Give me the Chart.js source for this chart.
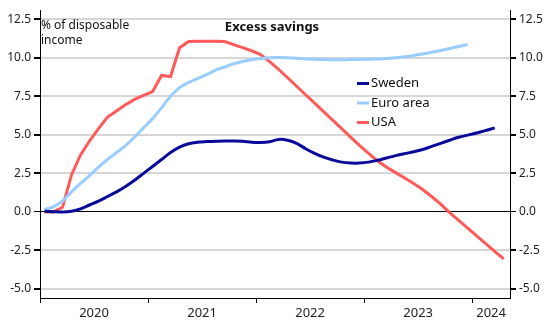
<!DOCTYPE html>
<html>
<head>
<meta charset="utf-8">
<script src="https://cdn.jsdelivr.net/npm/chart.js@4"></script>
<style>
  html, body { margin: 0; padding: 0; background: #fff; }
  canvas { display: block; }
</style>
</head>
<body>
<canvas id="savingsChart" width="550" height="321"></canvas>
<script>
// monthly values, % of disposable income, starting Jan 2020
const sweden = [
  0.05, 0.02, 0.0, 0.05, 0.2, 0.45, 0.7, 1.0, 1.3, 1.65,
  2.05, 2.5, 2.95, 3.4, 3.85, 4.2, 4.42, 4.52, 4.56, 4.58,
  4.6, 4.6, 4.58, 4.52, 4.5, 4.55, 4.7, 4.65, 4.45, 4.1,
  3.8, 3.55, 3.37, 3.23, 3.17, 3.17, 3.23, 3.35, 3.5, 3.65,
  3.78, 3.9, 4.05, 4.25, 4.45, 4.65, 4.84, 4.98, 5.12, 5.28,
  5.45
];
const euroArea = [
  0.15, 0.35, 0.7, 1.3, 1.85, 2.35, 2.9, 3.4, 3.85, 4.3,
  4.85, 5.45, 6.05, 6.75, 7.5, 8.05, 8.4, 8.65, 8.9, 9.2,
  9.4, 9.6, 9.75, 9.87, 9.95, 10.0, 10.02, 10.0, 9.96, 9.92,
  9.9, 9.88, 9.87, 9.87, 9.88, 9.89, 9.9, 9.92, 9.95, 10.0,
  10.06, 10.14, 10.24, 10.35, 10.47, 10.6, 10.73, 10.85
];
const usa = [
  0.0, 0.0, 0.3, 2.4, 3.7, 4.6, 5.4, 6.15, 6.55, 6.95,
  7.3, 7.55, 7.8, 8.85, 8.78, 10.65, 11.05, 11.07, 11.07, 11.06,
  11.05, 10.85, 10.65, 10.45, 10.2, 9.75, 9.25, 8.7, 8.15, 7.6,
  7.05, 6.5, 5.95, 5.4, 4.85, 4.3, 3.8, 3.3, 2.9, 2.55,
  2.2, 1.85, 1.45, 1.0, 0.5, -0.05, -0.55, -1.05, -1.55, -2.05,
  -2.55, -3.05
];
const years = ['2020', '2021', '2022', '2023', '2024'];
const yTicks = [-5, -2.5, 0, 2.5, 5, 7.5, 10, 12.5];
const xMax = 52.2; // months shown on the axis
const yMin = -5.58, yMax = 13.08;

const FONT = "'Noto Sans', 'DejaVu Sans', sans-serif";

// monthly points sit in the middle of their month
const toPoints = arr => arr.map((v, i) => ({ x: i + 0.5, y: v }));

const yearStarts = years.map((y, i) => i * 12);
const yearCentres = yearStarts.map(s => (s + Math.min(s + 12, xMax)) / 2);

const legendItems = [
  { label: 'Sweden', color: '#0a0a9a' },
  { label: 'Euro area', color: '#99ccff' },
  { label: 'USA', color: '#ff5a5a' }
];

const textPlugin = {
  id: 'textPlugin',
  afterDraw(chart) {
    const ctx = chart.ctx;
    ctx.save();
    ctx.fillStyle = '#111';
    ctx.textBaseline = 'middle';

    ctx.font = 'bold 13px ' + FONT;
    ctx.textAlign = 'center';
    ctx.fillText('Excess savings', 272, 27);

    ctx.font = '12px ' + FONT;
    ctx.textAlign = 'left';
    ctx.fillText('% of disposable', 41, 26);
    ctx.fillText('income', 41, 41);

    ctx.font = '13px ' + FONT;
    legendItems.forEach((item, i) => {
      const y = 83.5 + i * 19.5;
      ctx.strokeStyle = item.color;
      ctx.lineWidth = 3;
      ctx.beginPath();
      ctx.moveTo(357, y);
      ctx.lineTo(369, y);
      ctx.stroke();
      ctx.fillStyle = '#111';
      ctx.fillText(item.label, 371, y);
    });
    ctx.restore();
  }
};

const yAxis = (position) => ({
  type: 'linear',
  position: position,
  min: yMin,
  max: yMax,
  afterBuildTicks: scale => { scale.ticks = yTicks.map(v => ({ value: v })); },
  afterFit: scale => { scale.width = 40; },
  border: { display: true, color: '#000', width: 1 },
  grid: {
    drawOnChartArea: position === 'left',
    drawTicks: true,
    tickLength: 6,
    tickColor: '#000',
    color: c => (c.tick && c.tick.value === 0 ? '#000' : '#d6d6d6'),
    lineWidth: c => (c.tick && c.tick.value === 0 ? 1 : 2)
  },
  ticks: {
    padding: 3,
    color: '#222',
    font: { family: FONT, size: 12 },
    callback: v => v.toFixed(1)
  }
});

new Chart(document.getElementById('savingsChart'), {
  type: 'line',
  data: {
    datasets: [
      { label: 'Sweden', data: toPoints(sweden), borderColor: '#0a0a9a', borderWidth: 3, tension: 0.35 },
      { label: 'Euro area', data: toPoints(euroArea), borderColor: '#99ccff', borderWidth: 3, tension: 0.35 },
      { label: 'USA', data: toPoints(usa), borderColor: '#ff5a5a', borderWidth: 3, tension: 0 }
    ]
  },
  options: {
    responsive: false,
    animation: false,
    devicePixelRatio: 1,
    layout: { padding: { top: 6, left: 0, right: 0, bottom: 0 } },
    elements: { point: { radius: 0 } },
    plugins: {
      legend: { display: false },
      title: { display: false },
      tooltip: { enabled: false }
    },
    scales: {
      x: {
        type: 'linear',
        min: 0,
        max: xMax,
        afterBuildTicks: scale => {
          const t = [];
          yearStarts.forEach(v => t.push({ value: v }));
          yearCentres.forEach(v => t.push({ value: v }));
          t.sort((a, b) => a.value - b.value);
          scale.ticks = t;
        },
        afterFit: scale => { scale.height = 23; },
        border: { display: true, color: '#000', width: 1 },
        grid: {
          drawOnChartArea: false,
          tickLength: 5,
          tickColor: c => (c.tick && yearStarts.includes(c.tick.value) ? '#000' : 'rgba(0,0,0,0)')
        },
        ticks: {
          autoSkip: false,
          maxRotation: 0,
          padding: 2,
          color: '#222',
          font: { family: FONT, size: 13 },
          callback: v => {
            const i = yearCentres.indexOf(v);
            return i >= 0 ? years[i] : '';
          }
        }
      },
      y: yAxis('left'),
      y2: yAxis('right')
    }
  },
  plugins: [textPlugin]
});
</script>
</body>
</html>
